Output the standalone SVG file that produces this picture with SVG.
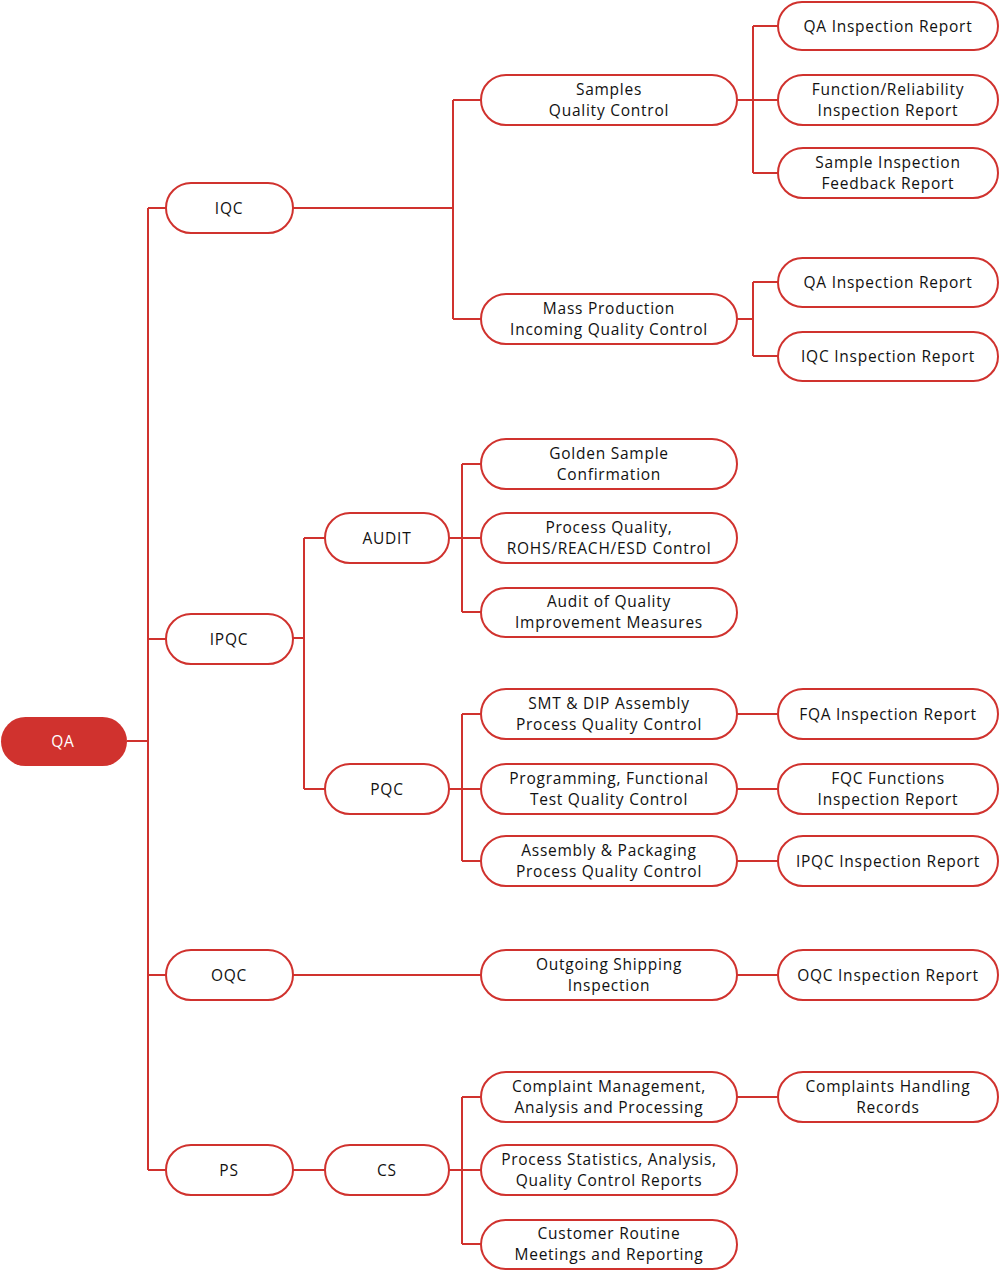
<svg xmlns="http://www.w3.org/2000/svg" width="1000" height="1271" viewBox="0 0 1000 1271">
<style>
.n rect{fill:#fff;stroke:#d0322e;stroke-width:2}
.n text,.r text{font-family:"Open Sans","Liberation Sans",sans-serif;font-size:15.5px;letter-spacing:0.75px;fill:#111;text-anchor:middle}
.r rect{fill:#d0322e;stroke:none}
.r text{fill:#fff}
#connectors path{fill:none;stroke:#d0322e;stroke-width:2}
</style>
<g id="connectors">
<path d="M127 741H148M148 208V1170M148 208H166M148 639H166M148 975H166M148 1170H166"/>
<path d="M293 208H453M453 100V319M453 100H481M453 319H481"/>
<path d="M737 100H778M753 26V173M753 26H778M753 173H778"/>
<path d="M737 319H753M753 282V356M753 282H778M753 356H778"/>
<path d="M293 638H304M304 538V789M304 538H325M304 789H325"/>
<path d="M449 538H481M462 464V612M462 464H481M462 612H481"/>
<path d="M449 789H481M462 714V861M462 714H481M462 861H481"/>
<path d="M737 714H778M737 789H778M737 861H778"/>
<path d="M293 975H481M737 975H778"/>
<path d="M293 1170H325M449 1170H481M462 1097V1244M462 1097H481M462 1244H481M737 1097H778"/>
</g>
<g id="qa" class="r"><rect x="1" y="717" width="126" height="49" rx="24.5"/><text x="63" y="747">QA</text></g>
<g id="iqc" class="n"><rect x="166" y="183" width="127" height="50" rx="25"/><text x="229" y="214">IQC</text></g>
<g id="ipqc" class="n"><rect x="166" y="614" width="127" height="50" rx="25"/><text x="229" y="645">IPQC</text></g>
<g id="oqc" class="n"><rect x="166" y="950" width="127" height="50" rx="25"/><text x="229" y="981">OQC</text></g>
<g id="ps" class="n"><rect x="166" y="1145" width="127" height="50" rx="25"/><text x="229" y="1176">PS</text></g>
<g id="audit" class="n"><rect x="325" y="513" width="124" height="50" rx="25"/><text x="387" y="544">AUDIT</text></g>
<g id="pqc" class="n"><rect x="325" y="764" width="124" height="50" rx="25"/><text x="387" y="795">PQC</text></g>
<g id="cs" class="n"><rect x="325" y="1145" width="124" height="50" rx="25"/><text x="387" y="1176">CS</text></g>
<g id="samples" class="n"><rect x="481" y="75" width="256" height="50" rx="25"/><text x="609" y="95">Samples</text><text x="609" y="116">Quality Control</text></g>
<g id="mass" class="n"><rect x="481" y="294" width="256" height="50" rx="25"/><text x="609" y="314">Mass Production</text><text x="609" y="335">Incoming Quality Control</text></g>
<g id="golden" class="n"><rect x="481" y="439" width="256" height="50" rx="25"/><text x="609" y="459">Golden Sample</text><text x="609" y="480">Confirmation</text></g>
<g id="procq" class="n"><rect x="481" y="513" width="256" height="50" rx="25"/><text x="609" y="533">Process Quality,</text><text x="609" y="554">ROHS/REACH/ESD Control</text></g>
<g id="auditq" class="n"><rect x="481" y="588" width="256" height="49" rx="24.5"/><text x="609" y="607">Audit of Quality</text><text x="609" y="628">Improvement Measures</text></g>
<g id="smt" class="n"><rect x="481" y="689" width="256" height="50" rx="25"/><text x="609" y="709">SMT &amp; DIP Assembly</text><text x="609" y="730">Process Quality Control</text></g>
<g id="prog" class="n"><rect x="481" y="764" width="256" height="50" rx="25"/><text x="609" y="784">Programming, Functional</text><text x="609" y="805">Test Quality Control</text></g>
<g id="asm" class="n"><rect x="481" y="836" width="256" height="50" rx="25"/><text x="609" y="856">Assembly &amp; Packaging</text><text x="609" y="877">Process Quality Control</text></g>
<g id="outgoing" class="n"><rect x="481" y="950" width="256" height="50" rx="25"/><text x="609" y="970">Outgoing Shipping</text><text x="609" y="991">Inspection</text></g>
<g id="complaint" class="n"><rect x="481" y="1072" width="256" height="50" rx="25"/><text x="609" y="1092">Complaint Management,</text><text x="609" y="1113">Analysis and Processing</text></g>
<g id="stats" class="n"><rect x="481" y="1145" width="256" height="50" rx="25"/><text x="609" y="1165">Process Statistics, Analysis,</text><text x="609" y="1186">Quality Control Reports</text></g>
<g id="routine" class="n"><rect x="481" y="1220" width="256" height="49" rx="24.5"/><text x="609" y="1239">Customer Routine</text><text x="609" y="1260">Meetings and Reporting</text></g>
<g id="qa1" class="n"><rect x="778" y="2" width="220" height="48" rx="24"/><text x="888" y="32">QA Inspection Report</text></g>
<g id="func" class="n"><rect x="778" y="75" width="220" height="50" rx="25"/><text x="888" y="95">Function/Reliability</text><text x="888" y="116">Inspection Report</text></g>
<g id="sampleinsp" class="n"><rect x="778" y="148" width="220" height="50" rx="25"/><text x="888" y="168">Sample Inspection</text><text x="888" y="189">Feedback Report</text></g>
<g id="qa2" class="n"><rect x="778" y="258" width="220" height="49" rx="24.5"/><text x="888" y="288">QA Inspection Report</text></g>
<g id="iqcr" class="n"><rect x="778" y="332" width="220" height="49" rx="24.5"/><text x="888" y="362">IQC Inspection Report</text></g>
<g id="fqa" class="n"><rect x="778" y="689" width="220" height="50" rx="25"/><text x="888" y="720">FQA Inspection Report</text></g>
<g id="fqc" class="n"><rect x="778" y="764" width="220" height="50" rx="25"/><text x="888" y="784">FQC Functions</text><text x="888" y="805">Inspection Report</text></g>
<g id="ipqcr" class="n"><rect x="778" y="836" width="220" height="50" rx="25"/><text x="888" y="867">IPQC Inspection Report</text></g>
<g id="oqcr" class="n"><rect x="778" y="950" width="220" height="50" rx="25"/><text x="888" y="981">OQC Inspection Report</text></g>
<g id="chr" class="n"><rect x="778" y="1072" width="220" height="50" rx="25"/><text x="888" y="1092">Complaints Handling</text><text x="888" y="1113">Records</text></g>
</svg>
